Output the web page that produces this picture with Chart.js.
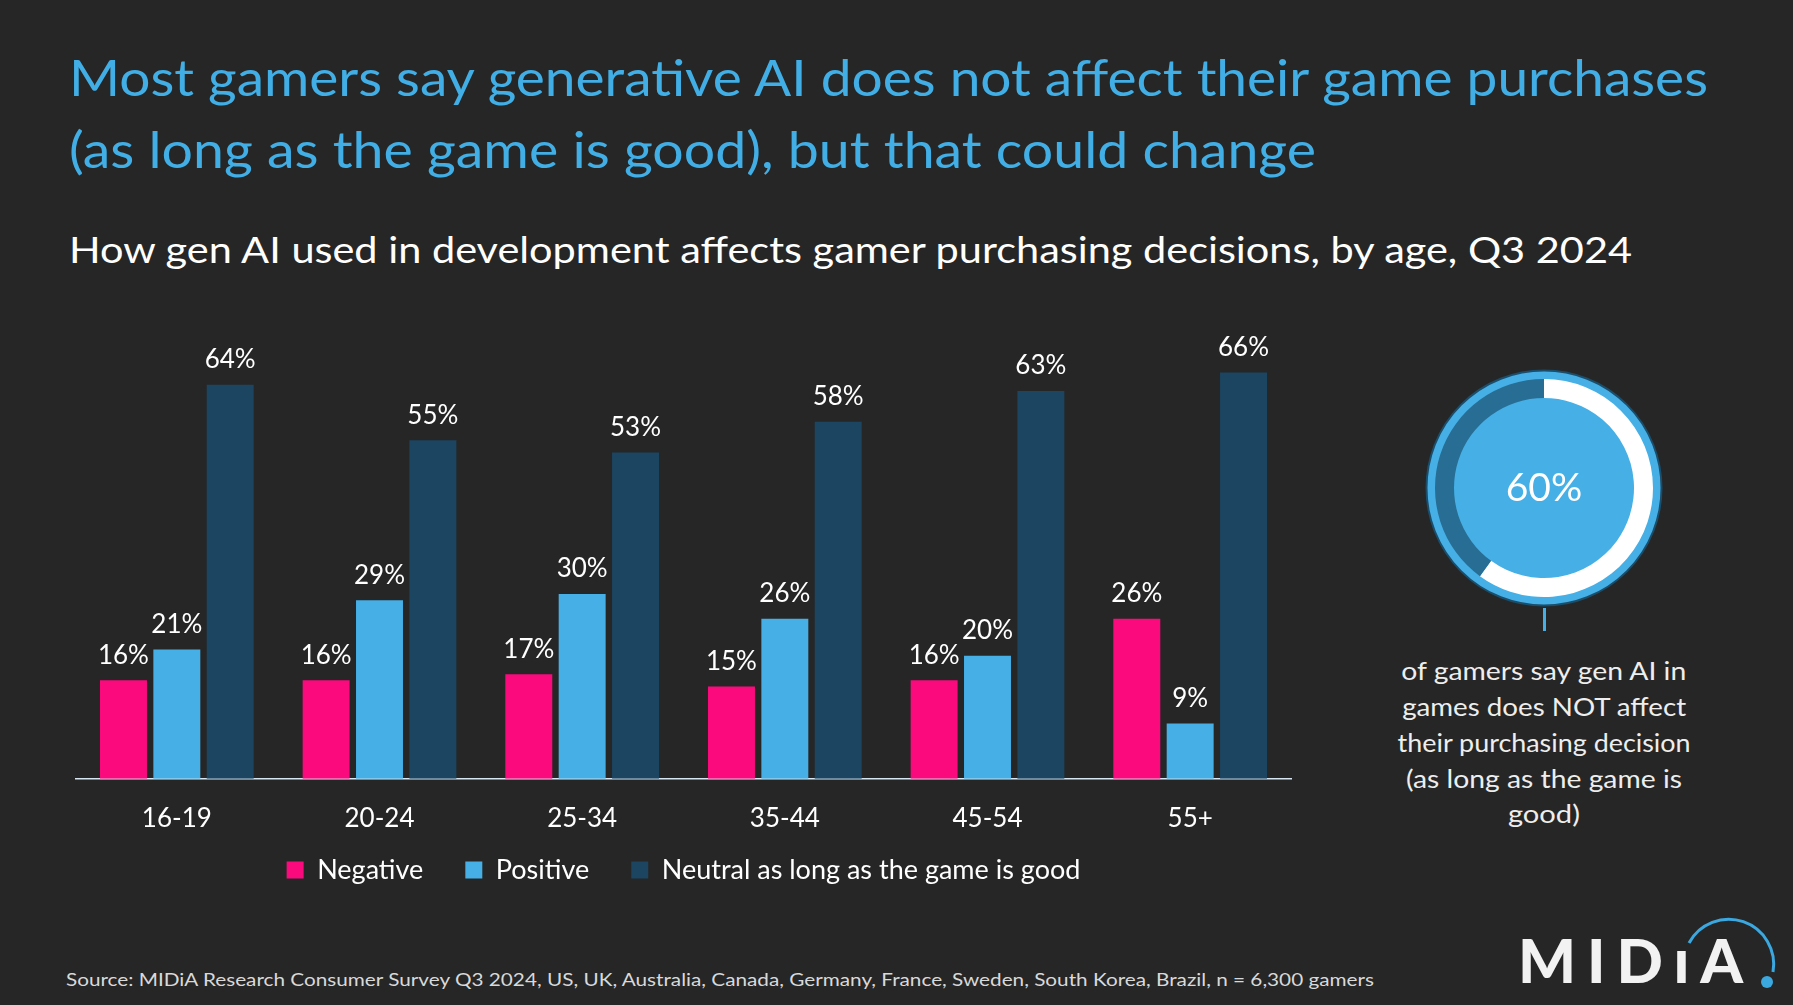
<!DOCTYPE html>
<html>
<head>
<meta charset="utf-8">
<script src="https://cdn.jsdelivr.net/npm/chart.js@4.4.1/dist/chart.umd.min.js"></script>
<style>
  html, body { margin: 0; padding: 0; background: #262626; }
  body { width: 1793px; height: 1005px; position: relative; overflow: hidden; font-family: Lato, sans-serif; }
  .txt { position: absolute; white-space: nowrap; line-height: 1.2; }
  .title { color: #41AEE5; font-size: 51px; left: 69px; transform-origin: left center; }
  .subtitle { color: #FFFFFF; font-size: 37px; left: 69px; top: 227px; transform-origin: left center; }
  .source { color: #D9D9D9; font-size: 18px; left: 66px; top: 969px; transform-origin: left center; }
  .caption { color: #EEEEEE; font-size: 25px; transform-origin: center center; }
  #barWrap { position: absolute; left: 0; top: 280px; width: 1380px; height: 661px; }
  #donutWrap { position: absolute; left: 1414px; top: 358px; width: 260px; height: 260px; }
  #connector { position: absolute; left: 1543px; top: 608px; width: 3px; height: 23px; background: #45AFE6; }
  #logo { position: absolute; left: 1500px; top: 900px; }
</style>
</head>
<body>
<div class="txt title" id="t1" style="top:46px">Most gamers say generative AI does not affect their game purchases</div>
<div class="txt title" id="t2" style="top:118px">(as long as the game is good), but that could change</div>
<div class="txt subtitle" id="sub">How gen AI used in development affects gamer purchasing decisions, by age, Q3 2024</div>

<div id="barWrap"><canvas id="bars"></canvas></div>
<div id="donutWrap"><canvas id="donut"></canvas></div>
<div id="connector"></div>
<div id="captionBox"></div>

<div class="txt source" id="src">Source: MIDiA Research Consumer Survey Q3 2024, US, UK, Australia, Canada, Germany, France, Sweden, South Korea, Brazil, n = 6,300 gamers</div>

<svg id="logo" width="293" height="105">
  <text x="18" y="83" font-family="Lato, sans-serif" font-weight="900" font-size="61" letter-spacing="11" fill="#F2F2F2">MIDıA</text>
  <path d="M189,43 A45,45 0 0 1 273,72" fill="none" stroke="#3BA8E0" stroke-width="3"/>
  <circle cx="267" cy="82" r="6" fill="#3BA8E0"/>
</svg>

<script>
const ageGroups = ['16-19', '20-24', '25-34', '35-44', '45-54', '55+'];
const negative = [16, 16, 17, 15, 16, 26];
const positive = [21, 29, 30, 26, 20, 9];
const neutral = [64, 55, 53, 58, 63, 66];
const seriesNames = ['Negative', 'Positive', 'Neutral as long as the game is good'];

const notAffected = 60;
const donutParts = [notAffected, 100 - notAffected];

const captionLines = [
  'of gamers say gen AI in',
  'games does NOT affect',
  'their purchasing decision',
  '(as long as the game is',
  'good)',
];

// caption under the donut, one line per div (baseline y, width in the original)
const captionBaselines = [680, 716, 752, 788, 823];
const captionWidths = [285, 284, 293, 276, 72];
const captionBox = document.getElementById('captionBox');
const captionEls = captionLines.map((line, i) => {
  const d = document.createElement('div');
  d.className = 'txt caption';
  d.textContent = line;
  d.style.top = (captionBaselines[i] - 25 * 0.987) + 'px';
  captionBox.appendChild(d);
  return d;
});

// value labels above each bar
const barLabels = {
  id: 'barLabels',
  afterDatasetsDraw(chart) {
    const ctx = chart.ctx;
    ctx.save();
    ctx.font = '26px Lato, sans-serif';
    ctx.fillStyle = '#FFFFFF';
    ctx.textAlign = 'center';
    ctx.textBaseline = 'middle';
    chart.data.datasets.forEach((ds, i) => {
      chart.getDatasetMeta(i).data.forEach((bar, j) => {
        ctx.fillText(ds.data[j] + '%', bar.x, bar.y - 25);
      });
    });
    ctx.restore();
  },
};

// legend padding also sets the gap between items, so pull the row up afterwards
const legendNudge = {
  id: 'legendNudge',
  afterLayout(chart) {
    const lg = chart.legend;
    const rowMid = lg.top + lg.options.labels.padding + 27 / 2;
    const shift = rowMid - 590;
    lg.top -= shift;
    lg.bottom -= shift;
  },
};

new Chart(document.getElementById('bars'), {
  type: 'bar',
  data: {
    labels: ageGroups,
    datasets: [
      { label: seriesNames[0], data: negative, backgroundColor: '#FB0A7E' },
      { label: seriesNames[1], data: positive, backgroundColor: '#45AFE6' },
      { label: seriesNames[2], data: neutral, backgroundColor: '#1B4560' },
    ],
  },
  options: {
    responsive: true,
    maintainAspectRatio: false,
    animation: false,
    layout: { padding: { left: 75.5, right: 88.5, top: 37, bottom: 4 } },
    datasets: { bar: { categoryPercentage: 0.79, barPercentage: 0.88 } },
    scales: {
      x: {
        grid: { display: false, drawTicks: false },
        border: { display: true, color: '#D6E6F2', width: 1.5 },
        ticks: { color: '#FFFFFF', font: { family: 'Lato', size: 26 }, padding: 24 },
      },
      y: { display: false, min: 0, max: 75 },
    },
    plugins: {
      tooltip: { enabled: false },
      legend: {
        position: 'bottom',
        labels: {
          color: '#FFFFFF',
          font: { family: 'Lato', size: 27 },
          boxWidth: 17,
          boxHeight: 17,
          padding: 42,
        },
      },
    },
  },
  plugins: [barLabels, legendNudge],
});

// ring with disk behind and big number in the middle
const donutDecor = {
  id: 'donutDecor',
  beforeDatasetsDraw(chart) {
    const ctx = chart.ctx;
    const cx = chart.width / 2, cy = chart.height / 2;
    ctx.save();
    ctx.beginPath();
    ctx.arc(cx, cy, 117.5, 0, Math.PI * 2);
    ctx.fillStyle = '#45AFE6';
    ctx.fill();
    ctx.lineWidth = 2;
    ctx.strokeStyle = '#1B4E6B';
    ctx.stroke();
    ctx.restore();
  },
  afterDatasetsDraw(chart) {
    const ctx = chart.ctx;
    ctx.save();
    ctx.font = '39px Lato, sans-serif';
    ctx.fillStyle = '#FFFFFF';
    ctx.textAlign = 'center';
    ctx.textBaseline = 'middle';
    ctx.fillText(notAffected + '%', chart.width / 2, chart.height / 2);
    ctx.restore();
  },
};

new Chart(document.getElementById('donut'), {
  type: 'doughnut',
  data: {
    labels: ['Not affected', 'Other'],
    datasets: [{ data: donutParts, backgroundColor: ['#FFFFFF', '#286D93'], borderWidth: 0 }],
  },
  options: {
    responsive: true,
    maintainAspectRatio: false,
    animation: false,
    cutout: 90,
    layout: { padding: 21 },
    plugins: { legend: { display: false }, tooltip: { enabled: false } },
  },
  plugins: [donutDecor],
});

// squeeze header/footer text to the widths in the original
function fitWidth(el, target) {
  const w = el.getBoundingClientRect().width;
  el.style.transform = 'scaleX(' + (target / w) + ')';
}
fitWidth(document.getElementById('t1'), 1639);
fitWidth(document.getElementById('t2'), 1247);
fitWidth(document.getElementById('sub'), 1563);
fitWidth(document.getElementById('src'), 1308);
captionEls.forEach((el, i) => {
  const w = el.getBoundingClientRect().width;
  el.style.left = (1544 - w / 2) + 'px';
  fitWidth(el, captionWidths[i]);
});
</script>
</body>
</html>
